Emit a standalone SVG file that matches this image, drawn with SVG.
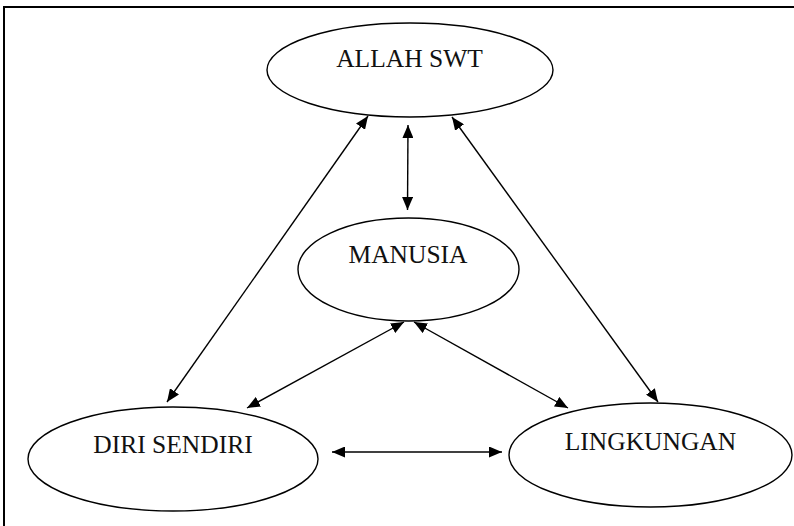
<svg xmlns="http://www.w3.org/2000/svg" width="794" height="526" viewBox="0 0 794 526">
  <style>
    .node ellipse { fill: #ffffff; stroke: #000000; stroke-width: 1.4; }
    .node text { font-family: "Liberation Serif", "Times New Roman", serif; font-size: 25.5px; fill: #111111; text-anchor: middle; }
    .edge { stroke: #000000; stroke-width: 1.4; fill: none; marker-start: url(#head); marker-end: url(#head); }
    .frame { stroke: #000000; stroke-width: 2; fill: none; }
  </style>
  <defs>
    <marker id="head" viewBox="0 0 13 11" refX="13" refY="5.5" markerWidth="13" markerHeight="11" markerUnits="userSpaceOnUse" orient="auto-start-reverse">
      <path d="M0,0 L13,5.5 L0,11 z" fill="#000000"/>
    </marker>
  </defs>
  <rect width="794" height="526" fill="#ffffff"/>

  <!-- outer frame (left and top edges run off the page) -->
  <polyline class="frame" points="4,530 4,7 800,7"/>

  <g id="connectors">
    <line class="edge" x1="408" y1="125" x2="407.5" y2="210"/>
    <line class="edge" x1="368" y1="116" x2="167" y2="402"/>
    <line class="edge" x1="452" y1="117" x2="658" y2="402"/>
    <line class="edge" x1="404" y1="322" x2="247" y2="408"/>
    <line class="edge" x1="414" y1="322" x2="568" y2="408"/>
    <line class="edge" x1="332" y1="452" x2="502" y2="452"/>
  </g>

  <g id="allah-swt" class="node">
    <ellipse cx="410" cy="70" rx="143" ry="47"/>
    <text x="409.5" y="67">ALLAH SWT</text>
  </g>

  <g id="manusia" class="node">
    <ellipse cx="408.5" cy="269.5" rx="110.5" ry="51.5"/>
    <text x="408" y="263">MANUSIA</text>
  </g>

  <g id="diri-sendiri" class="node">
    <ellipse cx="173" cy="459" rx="145" ry="52"/>
    <text x="173" y="453">DIRI SENDIRI</text>
  </g>

  <g id="lingkungan" class="node">
    <ellipse cx="650.5" cy="455" rx="141.5" ry="52"/>
    <text x="650.5" y="450">LINGKUNGAN</text>
  </g>
</svg>
